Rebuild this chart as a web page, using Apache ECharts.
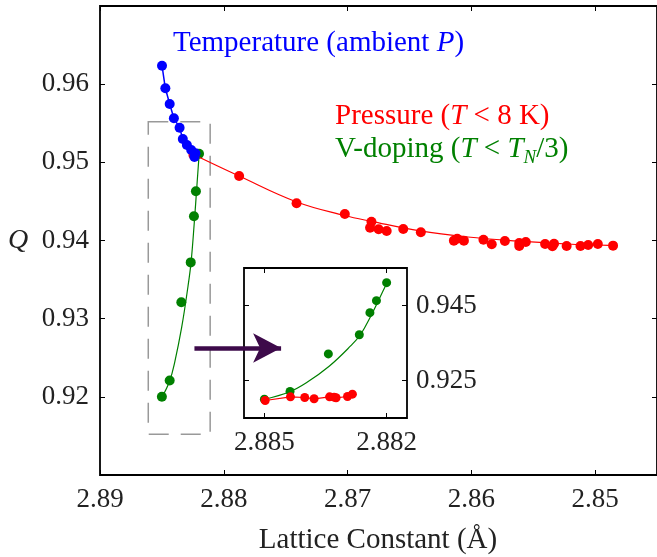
<!DOCTYPE html>
<html>
<head>
<meta charset="utf-8">
<script src="https://cdn.jsdelivr.net/npm/echarts@6/dist/echarts.min.js"></script>
<style>html,body{margin:0;padding:0;background:#fff}#main{width:657px;height:557px}</style>
</head>
<body>
<div id="main"></div>
<script>
// Temperature (ambient P)
var tempData = [[2.88499,0.96236],[2.88472,0.95947],[2.88437,0.95746],[2.88403,0.95563],[2.88357,0.95443],[2.88331,0.95299],[2.88298,0.95222],[2.88263,0.95158],[2.88229,0.95116],[2.88237,0.95068]];
// Pressure (T < 8 K)
var pressData = [[2.88245,0.95094],[2.87876,0.94825],[2.87412,0.94476],[2.87022,0.94339],[2.86807,0.94241],[2.86818,0.94164],[2.86749,0.94143],[2.86684,0.94122],[2.86550,0.94147],[2.86408,0.94105],
  [2.86141,0.93998],[2.86114,0.94023],[2.86060,0.93998],[2.85902,0.94010],[2.85835,0.93952],[2.85729,0.93994],[2.85613,0.93968],[2.85613,0.93930],[2.85560,0.93981],[2.85404,0.93955],
  [2.85345,0.93926],[2.85332,0.93959],[2.85230,0.93930],[2.85118,0.93930],[2.85056,0.93943],[2.84978,0.93955],[2.84855,0.93934]];
var pressFit = [[2.88253,0.95107],[2.87876,0.94825],[2.87410,0.94493],[2.87024,0.94320],[2.86807,0.94245],[2.86414,0.94122],[2.86028,0.94045],[2.85627,0.93994],[2.85225,0.93955],[2.84888,0.93937]];
// V-doping (T < T_N/3)
var vdopData = [[2.88500,0.9200],[2.88437,0.9221],[2.88343,0.9321],[2.88267,0.9372],[2.88241,0.9431],[2.88225,0.9463],[2.88200,0.9511]];
var vdopFit = [[2.88500,0.91993],[2.88438,0.92199],[2.88397,0.92439],[2.88341,0.92881],[2.88289,0.93415],[2.88264,0.93727],[2.88239,0.94215],[2.88215,0.94748],[2.88199,0.95105]];
// inset: pressure points
var insetPress = [[2.88498,0.91967],[2.88436,0.92065],[2.88401,0.92047],[2.88378,0.92012],[2.88340,0.92065],[2.88329,0.92055],[2.88324,0.92039],[2.88296,0.92073],[2.88284,0.92135]];

var xTicks = [2.85, 2.86, 2.87, 2.88, 2.89];
var insetXTicks = [2.885, 2.882];
var insetYTicks = [0.925, 0.945];

var serif = '"Liberation Serif", "DejaVu Serif", serif';
var blue = '#0000ff', red = '#ff0000', green = '#008000';

var myChart = echarts.init(document.getElementById('main'));

var tick = {show: true, inside: true, length: 5, lineStyle: {color: '#000', width: 1}};
var lbl = {color: '#222', fontFamily: serif, fontSize: 27};

var option = {
  animation: false,
  backgroundColor: '#fff',
  grid: [
    {left: 100, top: 6, width: 560, height: 469, show: true, borderColor: '#000', borderWidth: 1.8},
    {left: 244, top: 268, width: 163, height: 150, show: true, backgroundColor: '#fff', borderColor: '#000', borderWidth: 1.8}
  ],
  xAxis: [
    {gridIndex: 0, type: 'value', min: 2.845, max: 2.89, inverse: true, position: 'bottom',
      axisLine: {show: false}, splitLine: {show: false},
      axisTick: Object.assign({customValues: xTicks}, tick),
      axisLabel: Object.assign({customValues: xTicks, margin: 11, formatter: function (v) { return v.toFixed(2); }}, lbl)},
    {gridIndex: 0, type: 'value', min: 2.845, max: 2.89, inverse: true, position: 'top',
      axisLine: {show: false}, splitLine: {show: false},
      axisTick: Object.assign({customValues: xTicks}, tick), axisLabel: {show: false}},
    {gridIndex: 1, type: 'value', min: 2.8815, max: 2.8855, inverse: true, position: 'bottom',
      axisLine: {show: false}, splitLine: {show: false},
      axisTick: Object.assign({customValues: insetXTicks}, tick),
      axisLabel: Object.assign({customValues: insetXTicks, margin: 11, formatter: function (v) { return v.toFixed(3); }}, lbl)},
    {gridIndex: 1, type: 'value', min: 2.8815, max: 2.8855, inverse: true, position: 'top',
      axisLine: {show: false}, splitLine: {show: false},
      axisTick: Object.assign({customValues: insetXTicks}, tick), axisLabel: {show: false}}
  ],
  yAxis: [
    {gridIndex: 0, type: 'value', min: 0.91, max: 0.97, interval: 0.01, position: 'left',
      axisLine: {show: false}, splitLine: {show: false}, axisTick: tick,
      axisLabel: Object.assign({showMinLabel: false, showMaxLabel: false, margin: 11, formatter: function (v) { return v.toFixed(2); }}, lbl)},
    {gridIndex: 0, type: 'value', min: 0.91, max: 0.97, interval: 0.01, position: 'right',
      axisLine: {show: false}, splitLine: {show: false}, axisTick: tick, axisLabel: {show: false}},
    {gridIndex: 1, type: 'value', min: 0.915, max: 0.955, position: 'right',
      axisLine: {show: false}, splitLine: {show: false},
      axisTick: Object.assign({customValues: insetYTicks}, tick),
      axisLabel: Object.assign({customValues: insetYTicks, margin: 9, formatter: function (v) { return v.toFixed(3); }}, lbl)},
    {gridIndex: 1, type: 'value', min: 0.915, max: 0.955, position: 'left',
      axisLine: {show: false}, splitLine: {show: false},
      axisTick: Object.assign({customValues: insetYTicks}, tick), axisLabel: {show: false}}
  ],
  series: [
    {name: 'Temperature', type: 'line', xAxisIndex: 0, yAxisIndex: 0, data: tempData,
      symbol: 'circle', symbolSize: 10, itemStyle: {color: blue}, lineStyle: {color: blue, width: 1.5},
      markArea: {silent: true, itemStyle: {color: 'rgba(0,0,0,0)', borderColor: '#999', borderWidth: 1.5, borderType: [20, 12]},
        data: [[{coord: [2.8861, 0.9552]}, {coord: [2.8811, 0.9152]}]]},
      markLine: {silent: true, symbol: ['none', 'arrow'], symbolSize: [22, 28], label: {show: false},
        lineStyle: {color: '#3d0a4a', width: 4.5, type: 'solid'},
        data: [[{coord: [2.88237, 0.92625]}, {coord: [2.87537, 0.92625]}]]}},
    {name: 'PressureFit', type: 'line', xAxisIndex: 0, yAxisIndex: 0, data: pressFit, smooth: 0.4,
      showSymbol: false, lineStyle: {color: red, width: 1.2}},
    {name: 'Pressure', type: 'scatter', xAxisIndex: 0, yAxisIndex: 0, data: pressData,
      symbolSize: 10, itemStyle: {color: red, opacity: 1}},
    {name: 'VdopFit', type: 'line', xAxisIndex: 0, yAxisIndex: 0, data: vdopFit, smooth: 0.4,
      showSymbol: false, lineStyle: {color: green, width: 1.2}},
    {name: 'Vdop', type: 'scatter', xAxisIndex: 0, yAxisIndex: 0, data: vdopData,
      symbolSize: 10, itemStyle: {color: green, opacity: 1}},
    // inset
    {name: 'VdopFitInset', type: 'line', xAxisIndex: 2, yAxisIndex: 2, data: vdopFit, smooth: 0.4,
      showSymbol: false, lineStyle: {color: green, width: 1.2}},
    {name: 'VdopInset', type: 'scatter', xAxisIndex: 2, yAxisIndex: 2, data: vdopData,
      symbolSize: 9, itemStyle: {color: green, opacity: 1}},
    {name: 'PressInset', type: 'line', xAxisIndex: 2, yAxisIndex: 2, data: insetPress,
      symbol: 'circle', symbolSize: 9, itemStyle: {color: red}, lineStyle: {color: red, width: 1.2}}
  ],
  graphic: [
    {type: 'text', x: 173, y: 43, style: {text: '{n|Temperature (ambient }{i|P}{n|)}', verticalAlign: 'middle', fill: blue,
      rich: {n: {fill: blue, fontFamily: serif, fontSize: 29}, i: {fill: blue, fontFamily: serif, fontSize: 29, fontStyle: 'italic'}}}},
    {type: 'text', x: 335, y: 116, style: {text: '{n|Pressure (}{i|T}{n| < 8 K)}', verticalAlign: 'middle', fill: red,
      rich: {n: {fill: red, fontFamily: serif, fontSize: 29}, i: {fill: red, fontFamily: serif, fontSize: 29, fontStyle: 'italic'}}}},
    {type: 'text', x: 335, y: 149, style: {text: '{n|V-doping (}{i|T}{n| < }{i|T}{s|N}{n|/3)}', verticalAlign: 'middle', fill: green,
      rich: {n: {fill: green, fontFamily: serif, fontSize: 29, lineHeight: 36},
        i: {fill: green, fontFamily: serif, fontSize: 29, fontStyle: 'italic', lineHeight: 36},
        s: {fill: green, fontFamily: serif, fontSize: 19, fontStyle: 'italic', lineHeight: 19, verticalAlign: 'bottom'}}}},
    {type: 'text', x: 18, y: 241, style: {text: 'Q', align: 'center', verticalAlign: 'middle', fill: '#222',
      fontFamily: serif, fontSize: 28, fontStyle: 'italic'}},
    {type: 'text', x: 378, y: 540, style: {text: 'Lattice Constant (Å)', align: 'center', verticalAlign: 'middle', fill: '#222',
      fontFamily: serif, fontSize: 29}}
  ]
};

myChart.setOption(option);
</script>
</body>
</html>
